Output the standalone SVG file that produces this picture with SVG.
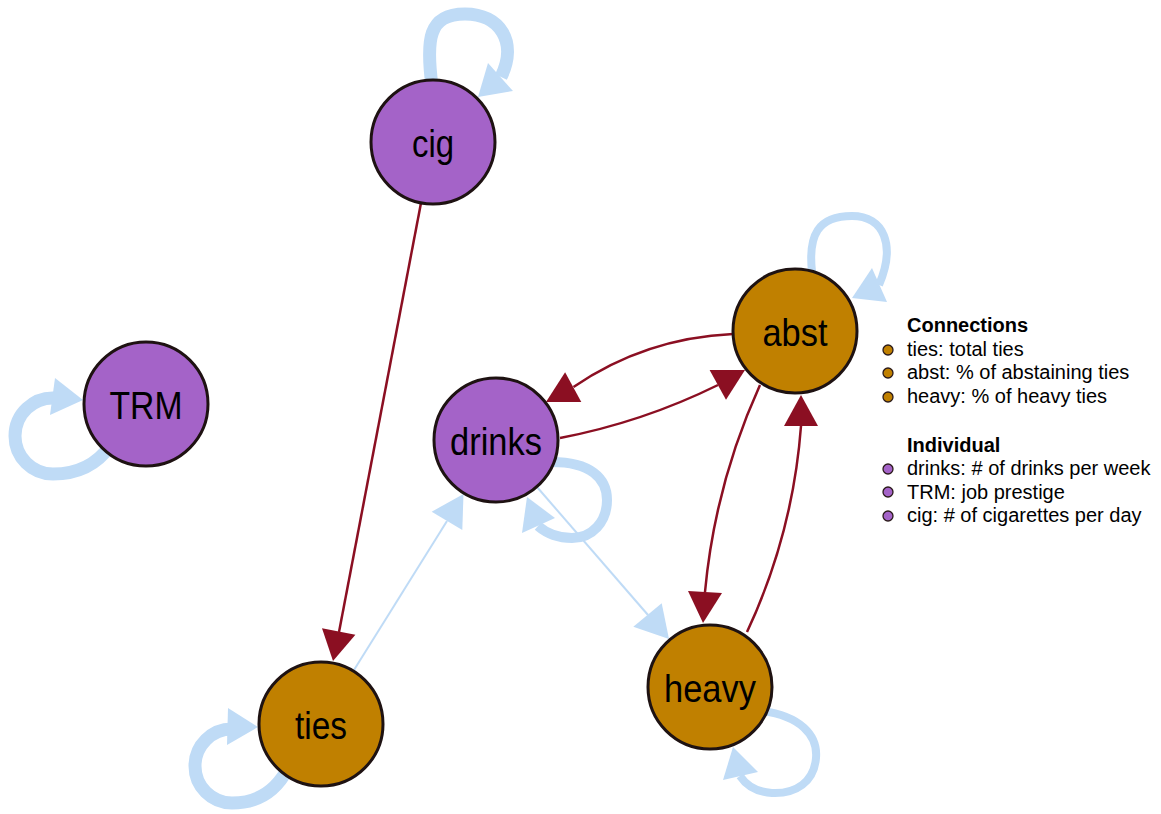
<svg xmlns="http://www.w3.org/2000/svg" width="1161" height="814" viewBox="0 0 1161 814">
<style>
.bg{fill:#ffffff}
.node{stroke:#1e1212;stroke-width:3}
.ind{fill:#a463c8}
.con{fill:#c08000}
.lbl{font-family:"Liberation Sans",Arial,sans-serif;font-size:39px;fill:#000;text-anchor:middle}
.red{fill:none;stroke:#8b0f22;stroke-width:2.5}
.redh{fill:#8b0f22}
.blue{fill:none;stroke:#bfdbf6;stroke-width:2}
.bluel{fill:none;stroke:#bfdbf6}
.blueh{fill:#bfdbf6}
.leg{font-family:"Liberation Sans",Arial,sans-serif;font-size:20px;fill:#000}
.legh{font-family:"Liberation Sans",Arial,sans-serif;font-size:20px;font-weight:bold;fill:#000}
.dot{stroke:#2a1a1a;stroke-width:1.3}
</style>
<rect class="bg" x="0" y="0" width="1161" height="814"/>
<g id="connectors">
  <!-- self loops -->
  <path class="bluel" stroke-width="13" d="M432,86 C426,40 428,14 465,14 C500,14 518,42 501,77"/>
  <polygon class="blueh" points="478,97 488,63 513,91"/>
  <path class="bluel" stroke-width="13" d="M110,446 Q90,474 53,474 A38,38 0 0 1 15,436 A38,38 0 0 1 55,398"/>
  <polygon class="blueh" points="83,400 55,378 50,415"/>
  <path class="bluel" stroke-width="13" d="M288,768 Q270,803 232,803 A37,37 0 0 1 195,766 A37,37 0 0 1 232,729"/>
  <polygon class="blueh" points="258,727 228,708 227,745"/>
  <path class="bluel" stroke-width="8" d="M812,272 C808,235 818,216 852,216 C884,216 896,245 879,285"/>
  <polygon class="blueh" points="852,298 872,268 887,302"/>
  <path class="bluel" stroke-width="8" d="M762,711 C800,716 818,735 816,758 C814,782 796,794 772,793 C756,792 746,785 740,776"/>
  <polygon class="blueh" points="733,747 723,780 758,772"/>
  <path class="bluel" stroke-width="10" d="M552,462 C590,462 607,478 607,500 C607,522 592,538 572,538 C557,538 545,532 538,526"/>
  <polygon class="blueh" points="527,497 522,533 555,518"/>
  <!-- thin blue edges -->
  <path class="blue" d="M354,670 L447,521"/>
  <polygon class="blueh" points="463.5,494 431.7,511.7 462.3,530"/>
  <path class="blue" d="M537,487 L648,615"/>
  <polygon class="blueh" points="669,639 661.7,603.3 633.3,626.7"/>
  <!-- red edges -->
  <path class="red" d="M421,203 L339,632"/>
  <polygon class="redh" points="333,661 322,628.3 355.4,634.7"/>
  <path class="red" d="M733,334 Q645,338 573.5,387"/>
  <polygon class="redh" points="546,402 565.1,372.2 581.3,402.1"/>
  <path class="red" d="M560,438 Q643,422 718,385"/>
  <polygon class="redh" points="745,370 709.6,370 726,399.8"/>
  <path class="red" d="M760,385 Q715,484 705,592"/>
  <polygon class="redh" points="703,623 688,590.9 722,593.1"/>
  <path class="red" d="M747,632 Q793,533.5 801,426"/>
  <polygon class="redh" points="801,395 784,426 818,426"/>
</g>
<g id="node-cig">
  <circle class="node ind" cx="433" cy="142" r="62"/>
  <text class="lbl" x="433" y="157" textLength="42" lengthAdjust="spacingAndGlyphs">cig</text>
</g>
<g id="node-TRM">
  <circle class="node ind" cx="146" cy="404" r="62"/>
  <text class="lbl" x="146" y="419" textLength="73" lengthAdjust="spacingAndGlyphs">TRM</text>
</g>
<g id="node-drinks">
  <circle class="node ind" cx="496" cy="440" r="62"/>
  <text class="lbl" x="496" y="455" textLength="92" lengthAdjust="spacingAndGlyphs">drinks</text>
</g>
<g id="node-ties">
  <circle class="node con" cx="321" cy="724" r="62"/>
  <text class="lbl" x="321" y="739" textLength="52" lengthAdjust="spacingAndGlyphs">ties</text>
</g>
<g id="node-abst">
  <circle class="node con" cx="795" cy="331" r="62"/>
  <text class="lbl" x="795" y="346" textLength="65" lengthAdjust="spacingAndGlyphs">abst</text>
</g>
<g id="node-heavy">
  <circle class="node con" cx="710" cy="687" r="62"/>
  <text class="lbl" x="710" y="702" textLength="92" lengthAdjust="spacingAndGlyphs">heavy</text>
</g>
<g id="legend">
  <text class="legh" x="907" y="332">Connections</text>
  <circle class="dot con" cx="888" cy="350" r="5"/>
  <text class="leg" x="907" y="356">ties: total ties</text>
  <circle class="dot con" cx="888" cy="373" r="5"/>
  <text class="leg" x="907" y="379">abst: % of abstaining ties</text>
  <circle class="dot con" cx="888" cy="397" r="5"/>
  <text class="leg" x="907" y="403">heavy: % of heavy ties</text>
  <text class="legh" x="907" y="452">Individual</text>
  <circle class="dot ind" cx="888" cy="469" r="5"/>
  <text class="leg" x="907" y="475">drinks: # of drinks per week</text>
  <circle class="dot ind" cx="888" cy="492" r="5"/>
  <text class="leg" x="907" y="499">TRM: job prestige</text>
  <circle class="dot ind" cx="888" cy="516" r="5"/>
  <text class="leg" x="907" y="522">cig: # of cigarettes per day</text>
</g>
</svg>
